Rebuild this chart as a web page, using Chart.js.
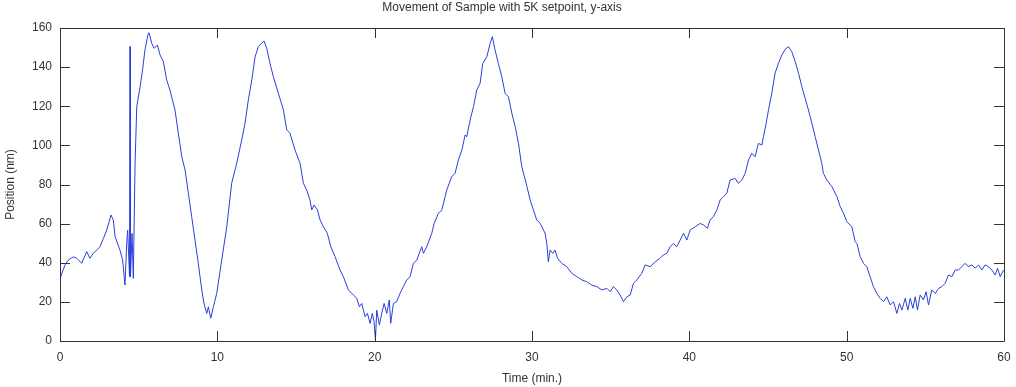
<!DOCTYPE html>
<html>
<head>
<meta charset="utf-8">
<script src="https://cdn.jsdelivr.net/npm/chart.js@4/dist/chart.umd.min.js"></script>
<style>
html,body{margin:0;padding:0;background:#fff;}
#wrap{width:1016px;height:387px;}
</style>
</head>
<body>
<div id="wrap"><canvas id="c" width="1016" height="387"></canvas></div>
<script>
const chartTitle = "Movement of Sample with 5K setpoint, y-axis";
const xTitle = "Time (min.)";
const yTitle = "Position (nm)";
const xTicks = [0, 10, 20, 30, 40, 50, 60];
const yTicks = [0, 20, 40, 60, 80, 100, 120, 140, 160];

const timeMin = [
0.00,0.32,0.53,0.85,1.06,1.38,1.70,1.90,2.12,2.33,2.54,2.76,2.97,3.24,3.39,3.50,3.81,3.98,4.13,4.24,4.30,4.42,4.45,4.48,4.58,4.66,
4.77,4.88,5.09,5.26,5.40,5.61,5.66,5.83,5.98,6.19,6.36,6.57,6.78,6.99,7.31,7.52,7.74,7.95,8.16,8.37,8.58,8.79,9.01,9.15,9.33,9.43,9.58,9.75,9.96,
10.28,10.60,10.91,11.23,11.55,11.76,11.97,12.19,12.40,12.61,12.82,12.97,13.14,13.35,13.56,13.88,14.20,14.41,14.62,14.94,15.26,15.47,15.68,15.89,
16.00,16.15,16.36,16.53,16.74,16.99,17.21,17.48,17.80,18.01,18.33,18.65,18.86,19.03,19.18,19.39,19.54,19.71,19.85,19.96,20.05,20.13,20.30,20.45,
20.60,20.77,20.93,21.02,21.19,21.40,21.61,21.82,22.04,22.25,22.46,22.68,22.99,23.10,23.31,23.63,23.78,24.05,24.27,24.48,24.58,24.90,25.11,25.32,
25.54,25.75,25.85,26.07,26.28,26.49,26.70,26.87,27.13,27.34,27.48,27.65,27.86,28.08,28.29,28.50,28.72,28.93,29.14,29.35,29.63,29.88,30.09,30.30,
30.52,30.83,30.94,31.04,31.15,31.32,31.47,31.62,31.89,32.21,32.53,32.85,33.17,33.48,33.80,34.12,34.44,34.76,34.97,35.17,35.39,35.60,35.81,36.03,
36.24,36.45,36.66,36.98,37.19,37.51,37.83,38.14,38.35,38.57,38.78,38.99,39.20,39.42,39.63,39.84,40.05,40.37,40.69,40.90,41.15,41.32,41.53,41.75,
41.96,42.17,42.38,42.59,42.91,43.12,43.34,43.55,43.76,43.97,44.18,44.39,44.61,44.71,44.88,45.03,45.24,45.45,45.66,45.88,46.09,46.30,46.51,46.73,
46.94,47.15,47.36,47.57,47.79,48.00,48.21,48.42,48.52,48.74,49.06,49.38,49.59,49.80,50.01,50.33,50.54,50.65,50.86,51.07,51.28,51.49,51.70,51.92,
52.13,52.34,52.55,52.77,52.98,53.19,53.36,53.51,53.72,53.89,54.04,54.21,54.36,54.50,54.67,54.88,55.05,55.20,55.41,55.63,55.84,56.05,56.26,56.47,
56.69,56.90,57.11,57.32,57.53,57.74,57.96,58.17,58.38,58.59,58.80,59.01,59.23,59.44,59.59,59.76,59.97
];
const positionNm = [
32,38.9,41.4,43,42.3,39.7,45.7,42.3,44.8,46.5,48.2,52.5,56.7,64.4,61.9,53.3,46.5,41.4,28.6,49.9,56.7,32.9,150.5,32.9,55,32,
90.8,119.8,130,139.3,148.8,157.3,157.6,152.2,149.6,151.3,146.2,142.8,133.4,128.3,118,106.2,94.2,87.4,75.5,63.5,51.6,39.7,26.1,19.3,14.1,17.5,11.6,17.5,24.3,
41.4,58.4,80.6,90.8,102.8,111.3,123.2,133.4,145.3,150.5,152.2,153.4,149.6,141.9,135.1,126.6,118.1,107.9,106.2,97.6,90.8,80.6,77.2,72.1,
67,69.5,67,61.9,58.4,55.1,48.2,43.1,36.3,32.9,26.1,23.5,21.8,17.5,19.2,12.4,14.1,9,14.1,9.9,0.5,15.8,8.2,14.1,
19.2,14.1,21,9,19.2,20.1,24.3,27.8,31.2,32.9,39.7,41.4,48.2,44.8,48.2,55.1,60.1,65.2,67,73.8,77.2,84,85.7,92.5,
97.6,105.3,104.4,113,119.8,128.3,131.7,141.9,145.3,152.2,155.6,148.8,141.9,135.1,126.6,124.9,116.4,109.6,101.1,89.1,80.6,72.1,67,61.9,
60.1,55.1,50,40.5,46.5,44.8,46.5,42.3,39.7,38,34.6,32.9,31.2,30.3,28.6,27.8,26.1,26.9,25.2,27.8,26.1,23.5,20.1,22.6,
23.5,29.5,31.2,34.6,38.9,38,40.5,42.3,44,44.8,48.2,49.9,48.2,51.6,55.1,51.6,56.7,58.4,60.1,59.3,57.6,61.9,63.5,67,
72.1,73.8,75.5,82.3,83.1,80.6,82.3,85.7,92.5,96,94.2,101,100.2,104.4,111.2,118.1,126.6,136.9,141.9,146.2,149.1,150.5,147.9,142.8,
136.9,130.1,124.1,118.1,111.3,104.4,97.6,90.8,85.7,82.3,78.9,73.8,68.7,65.3,61,58.4,50.8,49.9,43.1,39.7,38,32.9,27.8,24.3,
21.8,20.1,22.6,18.4,20.1,14.1,19.2,15.8,21.8,15.8,21.8,16.7,22.6,15.8,23.5,21,25.2,18.4,26.1,24.3,26.9,27.8,29.5,33.7,
32.9,36.3,36.3,38,39.7,38,38.9,37.2,38.9,36.3,38.9,38,36.3,33.7,37.2,32.9,36.3
];

const points = timeMin.map((t, i) => ({x: t, y: positionNm[i]}));
const textColor = '#333333';
const fontFamily = '"Liberation Sans", Arial, Helvetica, sans-serif';

const framePlugin = {
  id: 'frame',
  afterDatasetsDraw(chart) {
    const {ctx, chartArea: a, scales: {x, y}} = chart;
    ctx.save();
    ctx.strokeStyle = '#333333';
    ctx.lineWidth = 1;
    ctx.beginPath();
    ctx.rect(Math.round(a.left) + 0.5, Math.round(a.top) + 0.5, Math.round(a.right - a.left), Math.round(a.bottom - a.top));
    ctx.stroke();
    const L = 10;
    ctx.beginPath();
    x.ticks.forEach(t => {
      const px = Math.round(x.getPixelForValue(t.value)) + 0.5;
      ctx.moveTo(px, a.bottom); ctx.lineTo(px, a.bottom - L);
      ctx.moveTo(px, a.top); ctx.lineTo(px, a.top + L);
    });
    y.ticks.forEach(t => {
      const py = Math.round(y.getPixelForValue(t.value)) + 0.5;
      ctx.moveTo(a.left, py); ctx.lineTo(a.left + L, py);
      ctx.moveTo(a.right, py); ctx.lineTo(a.right - L, py);
    });
    ctx.stroke();
    ctx.restore();
  }
};

new Chart(document.getElementById('c'), {
  type: 'line',
  data: {
    datasets: [{
      data: points,
      borderColor: '#2b3fd9',
      borderWidth: 1,
      pointRadius: 0,
      tension: 0,
      fill: false
    }]
  },
  options: {
    responsive: false,
    animation: false,
    devicePixelRatio: 1,
    layout: {padding: {top: 0, right: 12, bottom: 0, left: 0}},
    plugins: {
      legend: {display: false},
      tooltip: {enabled: false},
      title: {
        display: true,
        text: chartTitle,
        color: textColor,
        font: {family: fontFamily, size: 12, weight: 'normal', lineHeight: 1.2},
        padding: {top: 0, bottom: 13.6}
      }
    },
    scales: {
      x: {
        type: 'linear',
        min: 0, max: 60,
        afterBuildTicks(s) { s.ticks = xTicks.map(v => ({value: v})); },
        afterFit(s) { s.height = 46; s.paddingLeft = 0; s.paddingRight = 0; },
        grid: {display: false, drawTicks: false},
        border: {display: false},
        ticks: {color: textColor, font: {family: fontFamily, size: 12}, padding: 9, maxRotation: 0, autoSkip: false},
        title: {display: true, text: xTitle, color: textColor, font: {family: fontFamily, size: 12}, padding: {top: 0, bottom: 1}}
      },
      y: {
        type: 'linear',
        min: 0, max: 160,
        afterBuildTicks(s) { s.ticks = yTicks.map(v => ({value: v})); },
        afterFit(s) { s.width = 60; s.paddingTop = 0; s.paddingBottom = 0; },
        grid: {display: false, drawTicks: false},
        border: {display: false},
        ticks: {color: textColor, font: {family: fontFamily, size: 12}, padding: 8, autoSkip: false},
        title: {display: true, text: yTitle, color: textColor, font: {family: fontFamily, size: 12}, padding: {top: 3, bottom: 0}}
      }
    }
  },
  plugins: [framePlugin]
});
</script>
</body>
</html>
